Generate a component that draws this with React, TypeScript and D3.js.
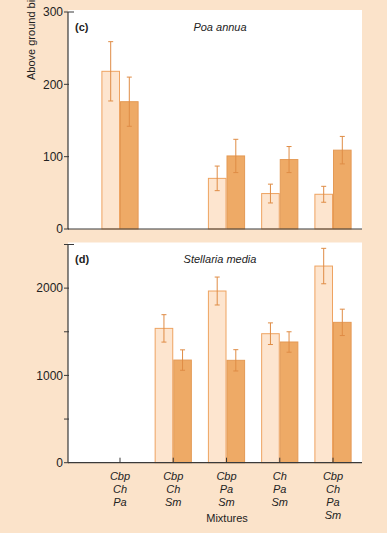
import React from "react";
import * as d3 from "d3";

const categories = ["Cbp Ch Pa", "Cbp Ch Sm", "Cbp Pa Sm", "Ch Pa Sm", "Cbp Ch Pa Sm"];
const categoryLines = [["Cbp", "Ch", "Pa"], ["Cbp", "Ch", "Sm"], ["Cbp", "Pa", "Sm"], ["Ch", "Pa", "Sm"], ["Cbp", "Ch", "Pa", "Sm"]];

// Panel (c) Poa annua (null = species absent)
const poaLight: (number | null)[] = [218, null, 70, 49, 48];
const poaLightErr: (number | null)[] = [41, null, 17, 13, 11];
const poaDark: (number | null)[] = [176, null, 101, 96, 109];
const poaDarkErr: (number | null)[] = [34, null, 23, 18, 19];
const poaTicks = [0, 100, 200, 300];

// Panel (d) Stellaria media
const stLight: (number | null)[] = [null, 1539, 1967, 1478, 2253];
const stLightErr: (number | null)[] = [null, 157, 160, 124, 203];
const stDark: (number | null)[] = [null, 1176, 1173, 1383, 1608];
const stDarkErr: (number | null)[] = [null, 117, 122, 117, 151];
const stTicks = [0, 500, 1000, 1500, 2000, 2500];
const stLabeled = [0, 1000, 2000];

const BG = "#fbe3ca";
const LIGHT_FILL = "#fde5cf";
const LIGHT_STROKE = "#eea361";
const DARK_FILL = "#eeaa66";
const DARK_STROKE = "#e49a55";
const ERR = "#df8c45";
const AXIS = "#3a3a3a";
const FONT = "'Liberation Sans', Arial, Helvetica, sans-serif";

const X0 = 68;
const X1 = 362;
const BW = 18.6;

const x = d3.scalePoint<string>().domain(categories).range([120, 333]);

type PanelProps = {
  light: (number | null)[];
  lightErr: (number | null)[];
  dark: (number | null)[];
  darkErr: (number | null)[];
  domain: [number, number];
  range: [number, number];
  ticks: number[];
  labeled: number[];
  tag: string;
  species: string;
  catTicks: boolean;
};

function Panel(p: PanelProps) {
  const y = d3.scaleLinear().domain(p.domain).range(p.range);
  const [yb, yt] = p.range;
  const bars: React.ReactNode[] = [];
  categories.forEach((c, i) => {
    const cx = x(c)!;
    const series = [
      { v: p.light[i], e: p.lightErr[i], x0: cx - BW, fill: LIGHT_FILL, stroke: LIGHT_STROKE },
      { v: p.dark[i], e: p.darkErr[i], x0: cx, fill: DARK_FILL, stroke: DARK_STROKE },
    ];
    series.forEach((s, j) => {
      if (s.v == null) return;
      const top = y(s.v);
      const mid = s.x0 + BW / 2;
      const e = s.e ?? 0;
      bars.push(
        <g key={`${i}-${j}`}>
          <rect x={s.x0 + 0.5} y={top} width={BW - 1} height={yb - top} fill={s.fill} stroke={s.stroke} strokeWidth={1} />
          <line x1={mid} x2={mid} y1={y(s.v + e)} y2={y(s.v - e)} stroke={ERR} strokeWidth={1} />
          <line x1={mid - 2.5} x2={mid + 2.5} y1={y(s.v + e)} y2={y(s.v + e)} stroke={ERR} strokeWidth={1} />
          <line x1={mid - 2.5} x2={mid + 2.5} y1={y(s.v - e)} y2={y(s.v - e)} stroke={ERR} strokeWidth={1} />
        </g>
      );
    });
  });
  return (
    <g>
      <rect x={X0} y={yt - 2} width={X1 - X0} height={yb - yt + 2} fill="#ffffff" />
      {bars}
      <line x1={X0} x2={X0} y1={yt} y2={yb} stroke={AXIS} strokeWidth={1.2} />
      <line x1={X0} x2={X1} y1={yb} y2={yb} stroke={AXIS} strokeWidth={1.2} />
      {p.ticks.map((t) => (
        <g key={t}>
          <line x1={X0 - 4} x2={t === p.domain[1] ? X0 + 6 : X0 + 1} y1={y(t)} y2={y(t)} stroke={AXIS} strokeWidth={1} />
          {p.labeled.includes(t) && (
            <text x={X0 - 5} y={y(t)} dy="0.35em" textAnchor="end" fontSize={12} fontFamily={FONT} fill="#222">
              {t}
            </text>
          )}
        </g>
      ))}
      {p.catTicks &&
        categories.map((c) => (
          <line key={c} x1={x(c)!} x2={x(c)!} y1={yb} y2={yb - 5} stroke={AXIS} strokeWidth={1} />
        ))}
      <text x={75} y={yt + 18.5} fontSize={11} fontWeight="bold" fontFamily={FONT} fill="#222">
        {p.tag}
      </text>
      <text x={220} y={yt + 18.5} textAnchor="middle" fontSize={11} fontStyle="italic" fontFamily={FONT} fill="#222">
        {p.species}
      </text>
    </g>
  );
}

export default function App() {
  return (
    <svg width={387} height={533} style={{ position: "absolute", left: 0, top: 0 }}>
      <rect x={0} y={0} width={387} height={533} fill={BG} />
      <text
        transform="translate(35,80) rotate(-90)"
        fontSize={11}
        fontFamily={FONT}
        fill="#222"
      >
        Above ground biomass (g m⁻²)
      </text>
      <Panel
        light={poaLight}
        lightErr={poaLightErr}
        dark={poaDark}
        darkErr={poaDarkErr}
        domain={[0, 300]}
        range={[229, 12]}
        ticks={poaTicks}
        labeled={poaTicks}
        tag="(c)"
        species="Poa annua"
        catTicks={false}
      />
      <Panel
        light={stLight}
        lightErr={stLightErr}
        dark={stDark}
        darkErr={stDarkErr}
        domain={[0, 2500]}
        range={[462.7, 244.5]}
        ticks={stTicks}
        labeled={stLabeled}
        tag="(d)"
        species="Stellaria media"
        catTicks={true}
      />
      {categories.map((c, i) =>
        categoryLines[i].map((ln, k) => (
          <text
            key={`${c}-${k}`}
            x={x(c)!}
            y={479.5 + k * 13.3}
            textAnchor="middle"
            fontSize={11}
            fontStyle="italic"
            fontFamily={FONT}
            fill="#222"
          >
            {ln}
          </text>
        ))
      )}
      <text x={227} y={522.3} textAnchor="middle" fontSize={11} fontFamily={FONT} fill="#222">
        Mixtures
      </text>
    </svg>
  );
}
